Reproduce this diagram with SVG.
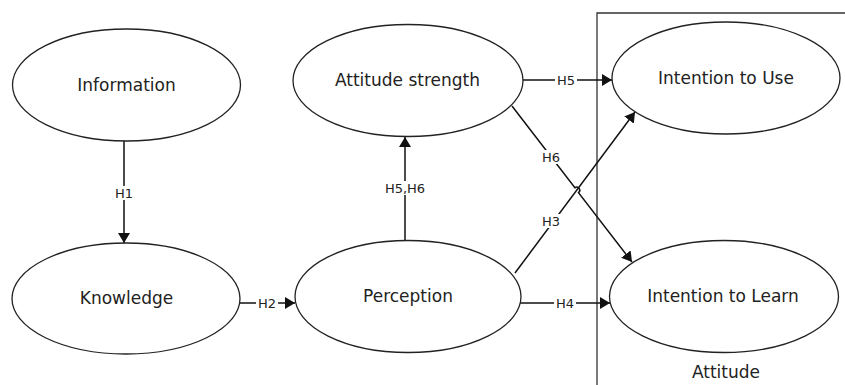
<svg xmlns="http://www.w3.org/2000/svg" width="845" height="385" viewBox="0 0 845 385">
  <defs>
    <marker id="arrow" viewBox="0 0 10 12" refX="10" refY="6" markerWidth="10" markerHeight="12" markerUnits="userSpaceOnUse" orient="auto">
      <path d="M0,0 L10,6 L0,12 Z" fill="#111"/>
    </marker>
    <style>
      .node ellipse { fill: #fff; stroke: #222; stroke-width: 1.3; }
      .node text, .title { font-family: "DejaVu Sans", Verdana, sans-serif; font-size: 17px; fill: #222; text-anchor: middle; }
      .edge { fill: none; stroke: #111; stroke-width: 1.5; }
      .lbl-bg { fill: #fff; }
      .lbl { font-family: "DejaVu Sans", Verdana, sans-serif; font-size: 13px; fill: #222; text-anchor: middle; }
      .frame { fill: none; stroke: #333; stroke-width: 1.3; }
    </style>
  </defs>
  <rect width="845" height="385" fill="#fff"/>

  <!-- Attitude group frame -->
  <g id="attitude-frame">
    <path class="frame" d="M597,386 V13 H846"/>
    <text class="title" x="726" y="378">Attitude</text>
  </g>

  <!-- Connectors -->
  <g id="connectors">
    <path class="edge" d="M124,141 V243" marker-end="url(#arrow)"/>
    <path class="edge" d="M240,303 H295" marker-end="url(#arrow)"/>
    <path class="edge" d="M405,241 V137" marker-end="url(#arrow)"/>
    <path class="edge" d="M523,80 H612" marker-end="url(#arrow)"/>
    <path class="edge" d="M520,303 H610" marker-end="url(#arrow)"/>
    <path class="edge" d="M515,273 L635,112" marker-end="url(#arrow)"/>
    <path class="edge" d="M512,106 L574.9,187.8 A3,3 0 0 1 578.5,192.6 L632,262" marker-end="url(#arrow)"/>

    <rect class="lbl-bg" x="113" y="186" width="22" height="14"/>
    <text class="lbl" x="124" y="197.5">H1</text>
    <rect class="lbl-bg" x="256" y="296" width="22" height="14"/>
    <text class="lbl" x="267" y="307.5">H2</text>
    <rect class="lbl-bg" x="384" y="181" width="42" height="14"/>
    <text class="lbl" x="405" y="193">H5,H6</text>
    <rect class="lbl-bg" x="555" y="73" width="22" height="14"/>
    <text class="lbl" x="566" y="85">H5</text>
    <rect class="lbl-bg" x="554" y="296" width="22" height="14"/>
    <text class="lbl" x="565" y="307.5">H4</text>
    <rect class="lbl-bg" x="540" y="150" width="22" height="14"/>
    <text class="lbl" x="551" y="162">H6</text>
    <rect class="lbl-bg" x="540" y="214" width="22" height="14"/>
    <text class="lbl" x="551" y="226">H3</text>
  </g>

  <!-- Nodes -->
  <g id="information" class="node">
    <ellipse cx="126.5" cy="85" rx="114" ry="56"/>
    <text x="126.5" y="91">Information</text>
  </g>
  <g id="knowledge" class="node">
    <ellipse cx="126" cy="298.5" rx="114" ry="55.5"/>
    <text x="126.5" y="304">Knowledge</text>
  </g>
  <g id="attitude-strength" class="node">
    <ellipse cx="408" cy="80.5" rx="115" ry="56"/>
    <text x="407.5" y="86">Attitude strength</text>
  </g>
  <g id="perception" class="node">
    <ellipse cx="408" cy="296.5" rx="113" ry="56"/>
    <text x="408" y="302">Perception</text>
  </g>
  <g id="intention-to-use" class="node">
    <ellipse cx="726" cy="78" rx="114" ry="56"/>
    <text x="726" y="84">Intention to Use</text>
  </g>
  <g id="intention-to-learn" class="node">
    <ellipse cx="724" cy="296.5" rx="114.5" ry="56"/>
    <text x="723" y="302">Intention to Learn</text>
  </g>
</svg>
